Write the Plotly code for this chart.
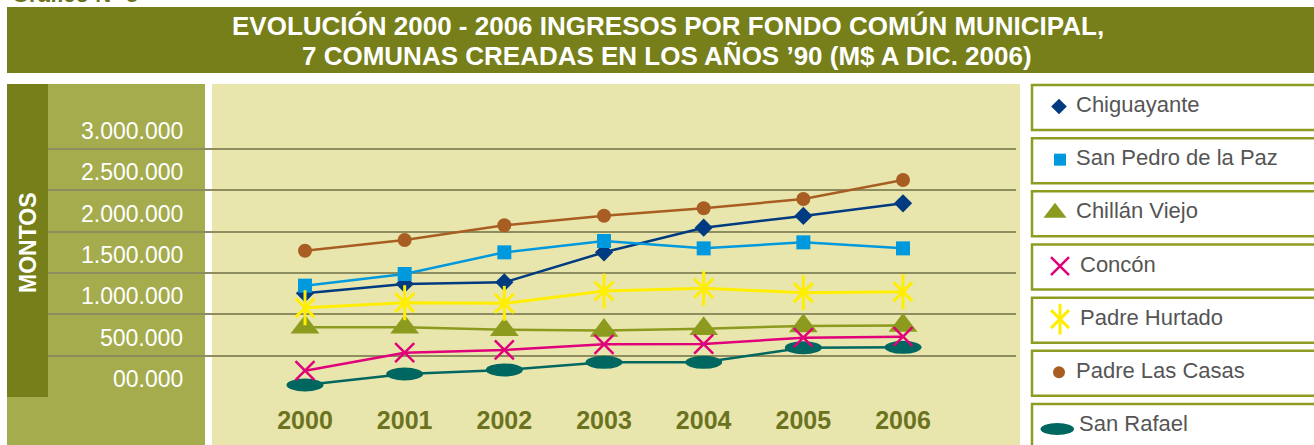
import plotly.graph_objects as go

# ---------------- data ----------------
years = [2000, 2001, 2002, 2003, 2004, 2005, 2006]
chiguayante = [1254000, 1367000, 1387000, 1750000, 2048000, 2190000, 2343000]
san_pedro = [1347000, 1488000, 1750000, 1887000, 1798000, 1871000, 1798000]
chillan_viejo = [845000, 845000, 815000, 805000, 825000, 860000, 865000]
concon = [318000, 536000, 569000, 637000, 641000, 718000, 730000]
padre_hurtado = [1080000, 1141000, 1133000, 1282000, 1315000, 1262000, 1274000]
padre_las_casas = [1770000, 1899000, 2077000, 2193000, 2283000, 2395000, 2625000]
san_rafael = [145000, 278000, 327000, 419000, 419000, 597000, 601000]

ytick_vals = [0, 500000, 1000000, 1500000, 2000000, 2500000, 3000000]
ytick_text = ["00.000", "500.000", "1.000.000", "1.500.000", "2.000.000", "2.500.000", "3.000.000"]
xtick_text = ["2000", "2001", "2002", "2003", "2004", "2005", "2006"]

legend_names = ["Chiguayante", "San Pedro de la Paz", "Chillán Viejo", "Concón",
                "Padre Hurtado", "Padre Las Casas", "San Rafael"]

title_l1 = "EVOLUCIÓN 2000 - 2006 INGRESOS POR FONDO COMÚN MUNICIPAL,"
title_l2 = "7 COMUNAS CREADAS EN LOS AÑOS ’90 (M$ A DIC. 2006)"

# ---------------- style ----------------
W, H = 1314, 445
OLIVE = "#767f19"
LIGHT = "#a4ac4d"
YELLOW = "#e9e6ad"
GRID = "#8e8d5f"
BORDER = "#8f9c22"
C_CHI = "#003a80"
C_SPP = "#0099dd"
C_CHV = "#8c9b1e"
C_CON = "#e0007a"
C_PH = "#ffee00"
C_PLC = "#a85e22"
C_SR = "#006660"
FONT = "Liberation Sans, Arial, Helvetica, sans-serif"


def px_x(p):
    return p / W


def px_y(p):
    return 1 - p / H


# axis geometry (pixels)
plot_left, plot_right = 48, 1016
y_zero_px, y_top_px = 397, 84
px_per_val = 248 / 3000000.0
x_first_px, px_per_year = 305, 99.67

yrange_top = (y_zero_px - y_top_px) / px_per_val
xr0 = years[0] - (x_first_px - plot_left) / px_per_year
xr1 = xr0 + (plot_right - plot_left) / px_per_year

fig = go.Figure()

line_w = 2.5

# main series
fig.add_trace(go.Scatter(x=years, y=chiguayante, mode="lines+markers", name=legend_names[0],
                         line=dict(color=C_CHI, width=line_w),
                         marker=dict(symbol="diamond", size=14, color=C_CHI), cliponaxis=False))
fig.add_trace(go.Scatter(x=years, y=san_pedro, mode="lines+markers", name=legend_names[1],
                         line=dict(color=C_SPP, width=line_w),
                         marker=dict(symbol="square", size=14, color=C_SPP), cliponaxis=False))
fig.add_trace(go.Scatter(x=years, y=chillan_viejo, mode="lines+markers", name=legend_names[2],
                         line=dict(color=C_CHV, width=line_w),
                         marker=dict(symbol="triangle-up", size=25, color=C_CHV), cliponaxis=False))
fig.add_trace(go.Scatter(x=years, y=concon, mode="lines+markers", name=legend_names[3],
                         line=dict(color=C_CON, width=line_w),
                         marker=dict(symbol="x-thin", size=19, color=C_CON,
                                     line=dict(color=C_CON, width=2.5)), cliponaxis=False))
fig.add_trace(go.Scatter(x=years, y=padre_hurtado, mode="lines+markers", name=legend_names[4],
                         line=dict(color=C_PH, width=3),
                         marker=dict(symbol="x-thin", size=19, color=C_PH,
                                     line=dict(color=C_PH, width=3)), cliponaxis=False))
fig.add_trace(go.Scatter(x=years, y=padre_hurtado, mode="markers", showlegend=False,
                         marker=dict(symbol="line-ns", size=25, color=C_PH,
                                     line=dict(color=C_PH, width=3)), cliponaxis=False))
fig.add_trace(go.Scatter(x=years, y=padre_las_casas, mode="lines+markers", name=legend_names[5],
                         line=dict(color=C_PLC, width=line_w),
                         marker=dict(symbol="circle", size=14, color=C_PLC), cliponaxis=False))
fig.add_trace(go.Scatter(x=years, y=san_rafael, mode="lines", name=legend_names[6],
                         line=dict(color=C_SR, width=line_w), cliponaxis=False))

shapes = []
# background panels
shapes.append(dict(type="rect", xref="paper", yref="paper", x0=px_x(7), x1=px_x(W + 5),
                   y0=px_y(73), y1=px_y(7), fillcolor=OLIVE, line=dict(width=0), layer="below"))
shapes.append(dict(type="rect", xref="paper", yref="paper", x0=px_x(7), x1=px_x(205),
                   y0=px_y(H + 5), y1=px_y(84), fillcolor=LIGHT, line=dict(width=0), layer="below"))
shapes.append(dict(type="rect", xref="paper", yref="paper", x0=px_x(7), x1=px_x(48),
                   y0=px_y(397), y1=px_y(84), fillcolor=OLIVE, line=dict(width=0), layer="below"))
shapes.append(dict(type="rect", xref="paper", yref="paper", x0=px_x(212), x1=px_x(1020),
                   y0=px_y(H + 5), y1=px_y(84), fillcolor=YELLOW, line=dict(width=0), layer="below"))

# San Rafael ellipse markers (data driven)
ell_hw = 18.5 / px_per_year
ell_hh = 6.5 / px_per_val
for xv, yv in zip(years, san_rafael):
    shapes.append(dict(type="circle", xref="x", yref="y", x0=xv - ell_hw, x1=xv + ell_hw,
                       y0=yv - ell_hh, y1=yv + ell_hh, fillcolor=C_SR, line=dict(width=0),
                       layer="between"))

# legend boxes
box_top0, box_pitch, box_h = 85, 53.17, 45
box_centers = []
for i in range(len(legend_names)):
    t = box_top0 + i * box_pitch
    box_centers.append(t + box_h / 2)
    shapes.append(dict(type="rect", xref="paper", yref="paper", x0=px_x(1032), x1=px_x(W + 10),
                       y0=px_y(t + box_h), y1=px_y(t), fillcolor="white",
                       line=dict(color=BORDER, width=2.5), layer="below"))

# legend markers on a pixel-space helper axis
leg_syms = [("diamond", 12, C_CHI, 0), ("square", 12, C_SPP, 0), ("triangle-up", 20, C_CHV, 0),
            ("x-thin", 18, C_CON, 2.5), ("x-thin", 18, C_PH, 3), ("circle", 12, C_PLC, 0)]
leg_x = [1059, 1060, 1055, 1060, 1060, 1059]
for i, (sym, sz, col, lw) in enumerate(leg_syms):
    mk = dict(symbol=sym, size=sz, color=col)
    if lw:
        mk["line"] = dict(color=col, width=lw)
    fig.add_trace(go.Scatter(x=[leg_x[i]], y=[box_centers[i] - 1], mode="markers", marker=mk,
                             xaxis="x2", yaxis="y2", showlegend=False, hoverinfo="skip",
                             cliponaxis=False))
fig.add_trace(go.Scatter(x=[leg_x[4]], y=[box_centers[4] - 1], mode="markers",
                         marker=dict(symbol="line-ns", size=22, color=C_PH, line=dict(color=C_PH, width=3)),
                         xaxis="x2", yaxis="y2", showlegend=False, hoverinfo="skip", cliponaxis=False))
shapes.append(dict(type="circle", xref="x2", yref="y2", x0=1040.5, x1=1074,
                   y0=box_centers[6] - 3.5, y1=box_centers[6] - 3.5 + 12,
                   fillcolor=C_SR, line=dict(width=0)))

annotations = []
# title
annotations.append(dict(text="<b>" + title_l1 + "</b>", xref="paper", yref="paper",
                        x=px_x(668), y=px_y(26), xanchor="center", yanchor="middle",
                        showarrow=False, font=dict(family=FONT, size=26, color="white")))
annotations.append(dict(text="<b>" + title_l2 + "</b>", xref="paper", yref="paper",
                        x=px_x(667), y=px_y(56), xanchor="center", yanchor="middle",
                        showarrow=False, font=dict(family=FONT, size=26, color="white")))
# cut-off caption at top (as in the reference)
annotations.append(dict(text="<b>Gráfico N° 5</b>", xref="paper", yref="paper",
                        x=px_x(10), y=px_y(9), xanchor="left", yanchor="bottom",
                        showarrow=False, font=dict(family=FONT, size=22, color="#6b7320")))
# MONTOS
annotations.append(dict(text="<b>MONTOS</b>", xref="paper", yref="paper",
                        x=px_x(28), y=px_y(243), xanchor="center", yanchor="middle",
                        textangle=-90, showarrow=False,
                        font=dict(family=FONT, size=23, color="white")))
# y tick labels (sit above their gridlines)
for v, t in zip(ytick_vals, ytick_text):
    annotations.append(dict(text=t, xref="paper", yref="y", x=px_x(185), y=v,
                            xanchor="right", yanchor="middle", yshift=18, showarrow=False,
                            font=dict(family=FONT, size=23, color="white")))
# legend text
leg_text_x = [1074, 1074, 1074, 1078, 1078, 1074, 1077]
for i, name in enumerate(legend_names):
    annotations.append(dict(text=name, xref="x2", yref="y2", x=leg_text_x[i],
                            y=box_centers[i] - 3, xanchor="left", yanchor="middle",
                            showarrow=False, font=dict(family=FONT, size=22, color="#555555")))

fig.update_layout(
    width=W, height=H,
    margin=dict(l=0, r=0, t=0, b=0),
    paper_bgcolor="white", plot_bgcolor="rgba(0,0,0,0)",
    showlegend=False,
    shapes=shapes, annotations=annotations,
    xaxis=dict(domain=[px_x(plot_left), px_x(plot_right)], range=[xr0, xr1],
               tickvals=years, ticktext=xtick_text, showgrid=False, zeroline=False,
               showline=False, ticks="", ticklabelstandoff=6,
               tickfont=dict(family=FONT, size=25, color="#6b7320", weight="bold")),
    yaxis=dict(domain=[px_y(y_zero_px), px_y(y_top_px)], range=[0, yrange_top],
               tickvals=ytick_vals, showticklabels=False, showgrid=True,
               gridcolor=GRID, gridwidth=1.8, zeroline=False, showline=False, ticks=""),
    xaxis2=dict(domain=[px_x(1020), 1], range=[1020, W], anchor="y2", visible=False),
    yaxis2=dict(domain=[0, 1], range=[H, 0], anchor="x2", visible=False),
)

fig.write_html("out.html", config={"displayModeBar": False},
               post_script="document.body.style.margin='0px';document.body.style.overflow='hidden';")
